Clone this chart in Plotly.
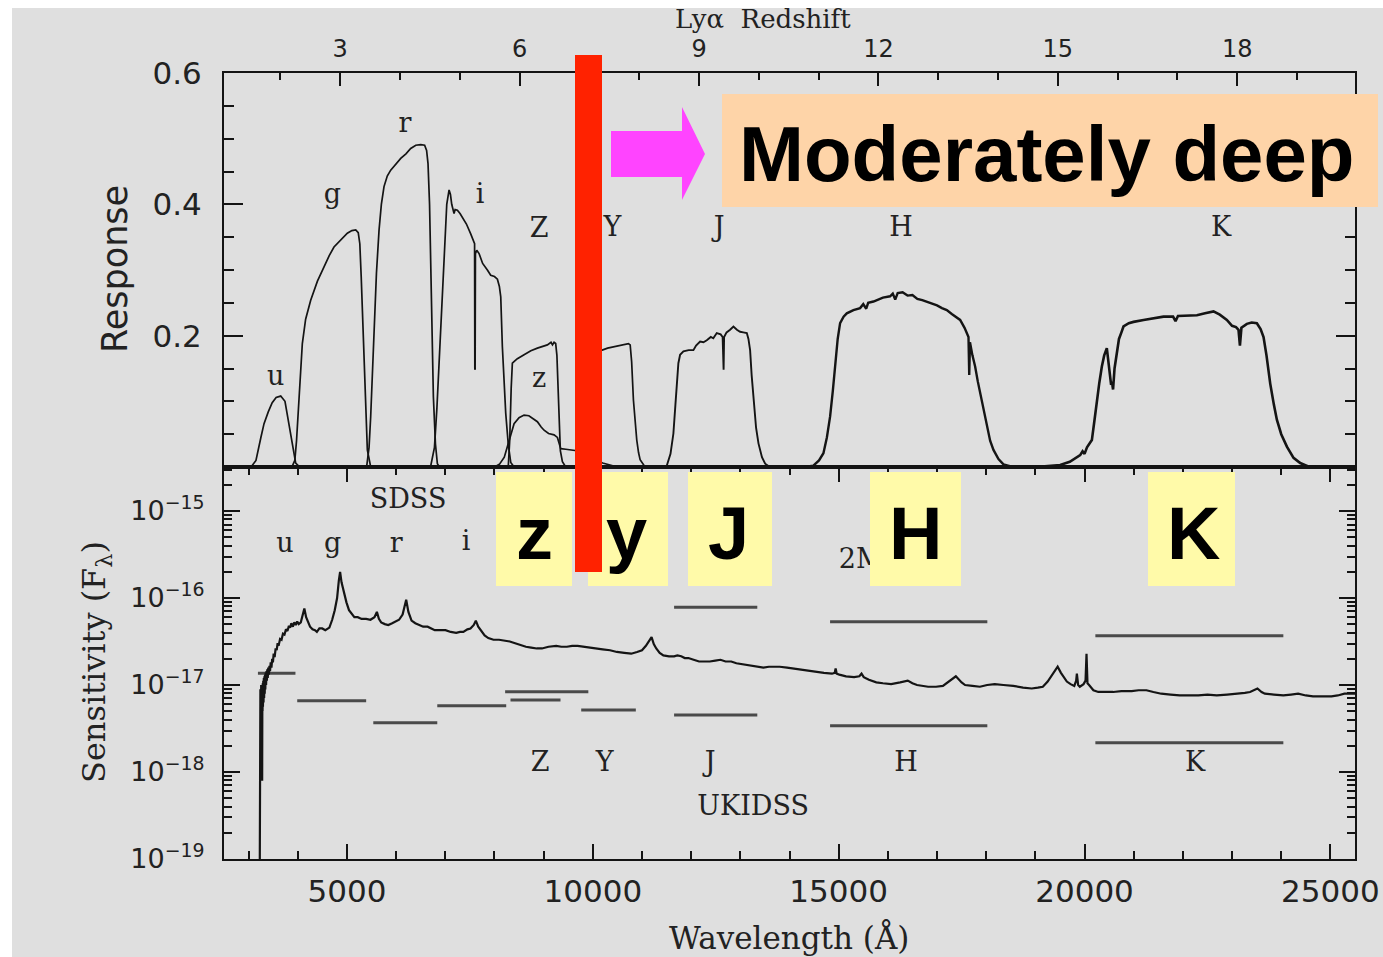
import plotly.graph_objects as go

# ---------------------------------------------------------------------------
# Figure geometry (pixels)
# ---------------------------------------------------------------------------
FIG_W, FIG_H = 1383, 957
M_L, M_R, M_T, M_B = 224, 28, 73, 98
SPLIT_PX = 467                       # boundary between the two panels

def fx(px):
    """figure pixel column -> paper x"""
    return (px - M_L) / (FIG_W - M_L - M_R)

def fy(py):
    """figure pixel row -> paper y"""
    return (FIG_H - M_B - py) / (FIG_H - M_T - M_B)

SPLIT = fy(SPLIT_PX)

WL_RANGE = [2500, 25500]             # Å
LYA = 1216.0                         # Å, Lyman alpha rest wavelength
Z_RANGE = [WL_RANGE[0] / LYA - 1, WL_RANGE[1] / LYA - 1]
LOGF_RANGE = [-19.0, -14.494]

# ---------------------------------------------------------------------------
# Filter response curves (wavelength in Å, fractional response)
# ---------------------------------------------------------------------------
u_wl = [3050, 3150, 3250, 3314, 3400, 3480, 3560, 3653, 3740, 3822, 3900, 3958, 4040]
u_resp = [0.000, 0.010, 0.045, 0.066, 0.084, 0.098, 0.106, 0.108, 0.100, 0.066, 0.028, 0.006, 0.000]

g_wl = [3880, 3940, 3975, 4010, 4050, 4093, 4160, 4263, 4400, 4534, 4640, 4737,
        4870, 5008, 5100, 5179, 5230, 5262, 5290, 5320, 5348, 5380, 5415, 5483]
g_resp = [0.000, 0.010, 0.040, 0.090, 0.145, 0.188, 0.225, 0.254, 0.283, 0.305, 0.322, 0.335,
          0.346, 0.356, 0.360, 0.361, 0.357, 0.340, 0.290, 0.220, 0.158, 0.085, 0.026, 0.000]

r_wl = [5400, 5450, 5483, 5520, 5551, 5600, 5653, 5700, 5754, 5820, 5890, 6000, 6094,
        6200, 6297, 6400, 6501, 6580, 6620, 6649, 6680, 6704, 6730, 6758, 6800, 6839, 6880]
r_resp = [0.000, 0.030, 0.077, 0.150, 0.209, 0.295, 0.361, 0.400, 0.427, 0.443, 0.452, 0.462, 0.470,
          0.477, 0.485, 0.490, 0.491, 0.490, 0.482, 0.462, 0.400, 0.310, 0.200, 0.107, 0.035, 0.005, 0.000]

i_wl = [6700, 6780, 6830, 6873, 6920, 6975, 7030, 7077, 7105, 7131, 7178, 7200, 7246,
        7300, 7348, 7430, 7517, 7580, 7596, 7601, 7607, 7613, 7640, 7687, 7760, 7856,
        7924, 8000, 8060, 8100, 8128, 8161, 8200, 8229, 8280, 8331, 8400]
i_resp = [0.000, 0.030, 0.090, 0.158, 0.250, 0.335, 0.400, 0.422, 0.415, 0.400, 0.386, 0.392, 0.391,
          0.386, 0.380, 0.370, 0.355, 0.345, 0.340, 0.150, 0.148, 0.325, 0.330, 0.325, 0.310, 0.300,
          0.292, 0.290, 0.286, 0.275, 0.259, 0.183, 0.120, 0.082, 0.035, 0.007, 0.000]

zs_wl = [8000, 8100, 8200, 8263, 8330, 8399, 8500, 8602, 8700, 8800, 8873, 8950, 9009,
         9100, 9212, 9280, 9320, 9348, 9450, 9600, 9750, 9900, 10050, 10200, 10350, 10500]
zs_resp = [0.000, 0.004, 0.015, 0.031, 0.052, 0.066, 0.075, 0.079, 0.078, 0.073, 0.069, 0.061, 0.056,
           0.051, 0.049, 0.045, 0.035, 0.028, 0.027, 0.026, 0.024, 0.018, 0.011, 0.006, 0.003, 0.000]

Zu_wl = [8280, 8310, 8340, 8364, 8420, 8466, 8602, 8740, 8873, 9000, 9076, 9150, 9180,
         9212, 9245, 9270, 9300, 9314, 9340, 9382, 9450]
Zu_resp = [0.000, 0.040, 0.120, 0.158, 0.162, 0.165, 0.171, 0.177, 0.181, 0.184, 0.186, 0.190, 0.186,
           0.190, 0.188, 0.170, 0.100, 0.056, 0.025, 0.008, 0.000]

Y_wl = [9700, 9760, 9800, 9840, 9880, 9950, 10190, 10300, 10419, 10600, 10724, 10760,
        10790, 10826, 10860, 10894, 10930, 10962, 11063]
Y_resp = [0.000, 0.020, 0.060, 0.120, 0.165, 0.175, 0.178, 0.181, 0.183, 0.186, 0.188, 0.186,
          0.160, 0.102, 0.065, 0.041, 0.022, 0.011, 0.000]

J_wl = [11400, 11504, 11580, 11639, 11680, 11707, 11740, 11775, 11843, 11950, 12046, 12100,
        12182, 12250, 12318, 12400, 12450, 12521, 12600, 12640, 12650, 12660, 12670, 12720,
        12792, 12860, 12930, 12996, 13060, 13132, 13165, 13199, 13230, 13267, 13320, 13369,
        13440, 13505, 13600]
J_resp = [0.000, 0.002, 0.020, 0.051, 0.095, 0.127, 0.158, 0.171, 0.176, 0.178, 0.178, 0.185,
          0.191, 0.190, 0.193, 0.198, 0.196, 0.204, 0.202, 0.198, 0.150, 0.148, 0.198, 0.205,
          0.209, 0.214, 0.209, 0.206, 0.205, 0.204, 0.195, 0.178, 0.140, 0.102, 0.060, 0.036,
          0.015, 0.005, 0.000]

H_wl = [14300, 14486, 14600, 14690, 14760, 14826, 14880, 14927, 14980, 15029, 15100, 15165,
        15300, 15436, 15500, 15560, 15600, 15707, 15800, 15900, 16046, 16100, 16150, 16200,
        16300, 16400, 16500, 16600, 16700, 16860, 17000, 17100, 17199, 17300, 17400, 17470,
        17560, 17600, 17640, 17655, 17670, 17720, 17775, 17830, 17877, 17950, 18012, 18080,
        18148, 18250, 18351, 18500, 18900]
H_resp = [0.000, 0.002, 0.010, 0.021, 0.045, 0.077, 0.115, 0.153, 0.195, 0.219, 0.229, 0.234,
          0.239, 0.242, 0.248, 0.241, 0.250, 0.252, 0.255, 0.258, 0.260, 0.264, 0.255, 0.265,
          0.266, 0.261, 0.262, 0.256, 0.254, 0.250, 0.246, 0.242, 0.239, 0.233, 0.228, 0.224,
          0.212, 0.205, 0.198, 0.140, 0.190, 0.170, 0.153, 0.130, 0.112, 0.085, 0.061, 0.040,
          0.026, 0.012, 0.004, 0.001, 0.000]

K_wl = [19000, 19504, 19700, 19850, 19911, 19960, 20000, 20050, 20149, 20200, 20250, 20300,
        20352, 20400, 20453, 20480, 20510, 20540, 20555, 20580, 20610, 20657, 20700, 20750,
        20792, 20900, 20996, 21200, 21400, 21606, 21800, 21850, 21900, 22100, 22284, 22450,
        22623, 22750, 22894, 23000, 23080, 23131, 23160, 23190, 23301, 23400, 23504, 23580,
        23640, 23700, 23776, 23850, 23911, 24000, 24115, 24250, 24386, 24550, 24700]
K_resp = [0.000, 0.003, 0.008, 0.016, 0.018, 0.024, 0.020, 0.030, 0.041, 0.070, 0.102, 0.128,
          0.153, 0.170, 0.181, 0.165, 0.140, 0.125, 0.130, 0.118, 0.150, 0.176, 0.195, 0.205,
          0.214, 0.219, 0.221, 0.224, 0.227, 0.229, 0.229, 0.222, 0.230, 0.231, 0.231, 0.234,
          0.237, 0.232, 0.224, 0.215, 0.213, 0.209, 0.185, 0.212, 0.218, 0.220, 0.219, 0.210,
          0.198, 0.170, 0.127, 0.095, 0.072, 0.050, 0.031, 0.014, 0.006, 0.001, 0.000]

FILTERS = [
    ("u", u_wl, u_resp, 1.7), ("g", g_wl, g_resp, 1.7), ("r", r_wl, r_resp, 1.7),
    ("i", i_wl, i_resp, 1.7), ("z", zs_wl, zs_resp, 1.7), ("Z", Zu_wl, Zu_resp, 1.7),
    ("Y", Y_wl, Y_resp, 1.7), ("J", J_wl, J_resp, 1.9), ("H", H_wl, H_resp, 2.4),
    ("K", K_wl, K_resp, 2.6),
]

# ---------------------------------------------------------------------------
# Quasar sensitivity spectrum: wavelength (Å) and log10 F_lambda
# ---------------------------------------------------------------------------
spec_wl = [
    3228, 3232, 3236, 3240, 3244, 3248, 3252, 3256, 3260, 3264,
    3268, 3272, 3276, 3280, 3284, 3288, 3292, 3298, 3304, 3310,
    3316, 3322, 3328, 3334, 3340, 3348, 3356, 3364, 3372, 3380,
    3390, 3400, 3412, 3424, 3436, 3450, 3465, 3480, 3495, 3510,
    3530, 3550, 3572, 3590, 3610, 3640, 3670, 3699, 3730, 3760,
    3790, 3820, 3844, 3870, 3900, 3930, 3960, 3989, 4020, 4062,
    4100, 4134, 4170, 4207, 4250, 4300, 4350, 4389, 4440, 4498,
    4560, 4643, 4700, 4752, 4800, 4835, 4861, 4890, 4933, 4990,
    5042, 5100, 5151, 5220, 5297, 5390, 5478, 5560, 5609, 5650,
    5696, 5770, 5841, 5920, 5987, 6060, 6132, 6175, 6205, 6250,
    6314, 6390, 6459, 6550, 6640, 6720, 6786, 6900, 7004, 7110,
    7222, 7300, 7367, 7450, 7512, 7580, 7621, 7670, 7730, 7800,
    7875, 7980, 8093, 8200, 8311, 8420, 8529, 8640, 8747, 8860,
    8965, 9100, 9256, 9360, 9473, 9580, 9691, 9800, 9909, 10050,
    10200, 10350, 10490, 10640, 10781, 10900, 11000, 11080, 11130, 11195,
    11240, 11290, 11360, 11435, 11550, 11653, 11720, 11798, 11870, 11943,
    12050, 12161, 12270, 12379, 12490, 12597, 12700, 12815, 12920, 13033,
    13140, 13251, 13360, 13469, 13580, 13687, 13800, 13950, 14185, 14400,
    14562, 14700, 14863, 14920, 14938, 14960, 15013, 15150, 15314, 15420,
    15465, 15510, 15615, 15765, 15900, 16067, 16250, 16405, 16500, 16593,
    16819, 16980, 17120, 17250, 17383, 17500, 17571, 17720, 17872, 18020,
    18174, 18350, 18550, 18750, 18926, 19050, 19152, 19250, 19340, 19453,
    19520, 19566, 19640, 19716, 19791, 19830, 19844, 19870, 19904, 19980,
    20020, 20040, 20060, 20092, 20180, 20280, 20430, 20582, 20750, 20958,
    21100, 21259, 21400, 21560, 21750, 21936, 22120, 22313, 22500, 22689,
    22900, 23140, 23260, 23366, 23516, 23600, 23667, 23850, 24043, 24200,
    24344, 24500, 24645, 24820, 25021, 25150, 25285, 25400, 25500,
]
spec_logf = [
    -19.00, -17.20, -17.60, -17.05, -17.45, -17.10, -17.50, -17.00, -17.35, -17.05,
    -17.60, -17.00, -18.10, -17.10, -17.30, -16.98, -17.25, -16.95, -17.20, -16.92,
    -17.15, -16.90, -17.10, -16.88, -17.05, -16.86, -17.00, -16.84, -16.95, -16.82,
    -16.92, -16.80, -16.88, -16.78, -16.84, -16.74, -16.80, -16.70, -16.74, -16.64,
    -16.68, -16.58, -16.60, -16.52, -16.55, -16.47, -16.48, -16.41, -16.42, -16.36,
    -16.38, -16.32, -16.34, -16.29, -16.33, -16.28, -16.31, -16.27, -16.30, -16.28,
    -16.20, -16.12, -16.22, -16.27, -16.33, -16.36, -16.37, -16.39, -16.35, -16.35,
    -16.37, -16.34, -16.25, -16.14, -16.00, -15.80, -15.70, -15.82, -15.93, -16.05,
    -16.14, -16.19, -16.22, -16.22, -16.24, -16.24, -16.25, -16.22, -16.16, -16.24,
    -16.28, -16.30, -16.31, -16.29, -16.27, -16.25, -16.19, -16.10, -16.02, -16.16,
    -16.26, -16.29, -16.31, -16.33, -16.33, -16.35, -16.37, -16.37, -16.37, -16.39,
    -16.40, -16.39, -16.39, -16.36, -16.35, -16.31, -16.26, -16.33, -16.38, -16.43,
    -16.46, -16.48, -16.48, -16.49, -16.50, -16.52, -16.54, -16.56, -16.57, -16.58,
    -16.58, -16.56, -16.55, -16.56, -16.56, -16.55, -16.55, -16.56, -16.57, -16.58,
    -16.59, -16.60, -16.62, -16.63, -16.64, -16.62, -16.60, -16.55, -16.50, -16.45,
    -16.53, -16.58, -16.63, -16.66, -16.67, -16.67, -16.66, -16.67, -16.69, -16.69,
    -16.71, -16.73, -16.73, -16.73, -16.72, -16.71, -16.73, -16.73, -16.75, -16.76,
    -16.77, -16.78, -16.79, -16.80, -16.79, -16.79, -16.79, -16.80, -16.82, -16.84,
    -16.85, -16.86, -16.87, -16.86, -16.81, -16.87, -16.88, -16.90, -16.91, -16.90,
    -16.87, -16.91, -16.94, -16.97, -16.98, -16.99, -16.97, -16.95, -16.98, -17.00,
    -17.02, -17.02, -17.01, -16.96, -16.90, -16.97, -17.00, -17.01, -17.02, -17.00,
    -16.99, -17.00, -17.01, -17.03, -17.04, -17.03, -17.02, -16.96, -16.88, -16.79,
    -16.86, -16.90, -16.96, -16.99, -17.01, -16.95, -16.87, -17.00, -17.02, -16.99,
    -16.95, -16.64, -16.98, -17.00, -17.06, -17.08, -17.08, -17.08, -17.07, -17.07,
    -17.06, -17.06, -17.08, -17.10, -17.11, -17.12, -17.12, -17.12, -17.11, -17.12,
    -17.11, -17.10, -17.09, -17.08, -17.04, -17.08, -17.10, -17.11, -17.12, -17.11,
    -17.10, -17.12, -17.13, -17.13, -17.13, -17.12, -17.10, -17.10, -17.10,
]

# ---------------------------------------------------------------------------
# Survey depth limits per band: wavelength span and log10 F_lambda
# ---------------------------------------------------------------------------
sdss_bands = ["u", "g", "r", "i", "z"]
sdss_wl_lo = [3190, 3989, 5536, 6837, 8217]
sdss_wl_hi = [3953, 5391, 6837, 8239, 9909]
sdss_logf = [-16.866, -17.181, -17.434, -17.239, -17.077]

ukidss_bands = ["Z", "Y", "J", "H", "K"]
ukidss_wl_lo = [8326, 9764, 11653, 14825, 20220]
ukidss_wl_hi = [9343, 10875, 13345, 18023, 24043]
ukidss_logf = [-17.172, -17.287, -17.345, -17.468, -17.663]

tmass_bands = ["J", "H", "K"]
tmass_wl_lo = [11653, 14825, 20220]
tmass_wl_hi = [13345, 18023, 24043]
tmass_logf = [-16.107, -16.272, -16.433]

# Band labels
resp_label_text = ["u", "g", "r", "i", "Z", "z", "Y", "J", "H", "K"]
resp_label_wl = [3551, 4703, 6182, 7707, 8907, 8907, 10400, 12568, 16270, 22779]
resp_label_y = [0.1345, 0.413, 0.5197, 0.412, 0.361, 0.1325, 0.3624, 0.3624, 0.3624, 0.3624]

sens_label_text = ["SDSS", "u", "g", "r", "i", "2MASS", "Z", "Y", "J", "H", "K", "UKIDSS"]
sens_label_wl = [6243, 3741, 4707, 6000, 7422, 16026, 8927, 10239, 12385, 16372, 22250, 13260]
sens_label_logf = [-14.882, -15.399, -15.399, -15.399, -15.376, -15.572,
                   -17.908, -17.908, -17.908, -17.908, -17.908, -18.414]

# Highlighted near-IR bands
hl_text = ["z", "y", "J", "H", "K"]
hl_box_px = [(496, 572), (588, 668), (688, 772), (870, 961), (1148, 1235)]
hl_text_px = [534, 626, 728, 915, 1193]

# ---------------------------------------------------------------------------
INK = "#141414"
SERIF = "DejaVu Serif"
SANS = "DejaVu Sans"

fig = go.Figure()

for name, wl, resp, lw in FILTERS:
    fig.add_trace(go.Scatter(x=wl, y=resp, mode="lines", name=name,
                             line=dict(color=INK, width=lw),
                             xaxis="x2", yaxis="y", showlegend=False, hoverinfo="skip"))

# redshift axis carrier
fig.add_trace(go.Scatter(x=[None], y=[None], xaxis="x3", yaxis="y",
                         showlegend=False, hoverinfo="skip"))

def add_limits(lo, hi, logf, name):
    xs, ys = [], []
    for a, b, v in zip(lo, hi, logf):
        xs += [a, b, None]
        ys += [10 ** v, 10 ** v, None]
    fig.add_trace(go.Scatter(x=xs, y=ys, mode="lines", name=name,
                             line=dict(color="#4a4a4a", width=3),
                             xaxis="x", yaxis="y2", showlegend=False, hoverinfo="skip"))

add_limits(sdss_wl_lo, sdss_wl_hi, sdss_logf, "SDSS")
add_limits(ukidss_wl_lo, ukidss_wl_hi, ukidss_logf, "UKIDSS")
add_limits(tmass_wl_lo, tmass_wl_hi, tmass_logf, "2MASS")

fig.add_trace(go.Scatter(x=spec_wl, y=[10 ** v for v in spec_logf], mode="lines",
                         line=dict(color=INK, width=2.2), xaxis="x", yaxis="y2",
                         showlegend=False, hoverinfo="skip"))

label_font = dict(family=SERIF, size=27, color="#222")
fig.add_trace(go.Scatter(x=resp_label_wl, y=resp_label_y, mode="text", text=resp_label_text,
                         textposition="middle center", textfont=label_font,
                         xaxis="x2", yaxis="y", showlegend=False, hoverinfo="skip"))
fig.add_trace(go.Scatter(x=sens_label_wl, y=[10 ** v for v in sens_label_logf], mode="text",
                         text=sens_label_text, textposition="middle center", textfont=label_font,
                         xaxis="x", yaxis="y2", showlegend=False, hoverinfo="skip"))

# ---------------------------------------------------------------------------
# Overlays
# ---------------------------------------------------------------------------
shapes = [
    dict(type="rect", xref="paper", yref="paper", x0=fx(12), x1=fx(FIG_W), y0=fy(FIG_H), y1=fy(8),
         fillcolor="#dfdfdf", line=dict(width=0), layer="below"),
]
for x0, x1 in hl_box_px:
    shapes.append(dict(type="rect", xref="paper", yref="paper", x0=fx(x0), x1=fx(x1),
                       y0=fy(586), y1=fy(472), fillcolor="#fffaa9", line=dict(width=0),
                       layer="above"))
shapes.append(dict(type="rect", xref="paper", yref="paper", x0=fx(575), x1=fx(602),
                   y0=fy(572), y1=fy(55), fillcolor="#ff2200", line=dict(width=0), layer="above"))
arrow_pts = [(611, 131), (682, 131), (682, 107), (705, 154), (682, 200), (682, 177), (611, 177)]
arrow_path = "M " + " L ".join(f"{fx(a):.5f},{fy(b):.5f}" for a, b in arrow_pts) + " Z"
shapes.append(dict(type="path", xref="paper", yref="paper", path=arrow_path,
                   fillcolor="#ff44ff", line=dict(width=0), layer="above"))
shapes.append(dict(type="rect", xref="paper", yref="paper", x0=fx(722), x1=fx(1378),
                   y0=fy(207), y1=fy(94), fillcolor="#fed4a8", line=dict(width=0), layer="above"))

annotations = []
for t, cx in zip(hl_text, hl_text_px):
    annotations.append(dict(xref="paper", yref="paper", x=fx(cx), y=fy(533), text=f"<b>{t}</b>",
                            showarrow=False, xanchor="center", yanchor="middle",
                            font=dict(family="Liberation Sans", size=74, color="#000")))
annotations.append(dict(xref="paper", yref="paper", x=fx(1047), y=fy(154), text="<b>Moderately deep</b>",
                        showarrow=False, xanchor="center", yanchor="middle",
                        font=dict(family="Liberation Sans", size=78, color="#000")))
# axis titles
annotations += [
    dict(xref="paper", yref="paper", x=fx(763), y=fy(19), text="Lyα\u00a0 Redshift",
         showarrow=False, xanchor="center", yanchor="middle",
         font=dict(family=SERIF, size=26, color="#222")),
    dict(xref="paper", yref="paper", x=fx(789), y=fy(937), text="Wavelength (Å)",
         showarrow=False, xanchor="center", yanchor="middle",
         font=dict(family=SERIF, size=31, color="#222")),
    dict(xref="paper", yref="paper", x=fx(115), y=fy(269), text="Response", textangle=-90,
         showarrow=False, xanchor="center", yanchor="middle",
         font=dict(family=SANS, size=35, color="#222")),
    dict(xref="paper", yref="paper", x=fx(96), y=fy(662), text="Sensitivity (F<sub>λ</sub>)",
         textangle=-90, showarrow=False, xanchor="center", yanchor="middle",
         font=dict(family=SERIF, size=32, color="#222")),
]

axis_common = dict(showline=True, linecolor=INK, linewidth=2, ticks="inside", tickcolor=INK,
                   tickwidth=2, showgrid=False, zeroline=False, automargin=False)

log_major = [1e-19, 1e-18, 1e-17, 1e-16, 1e-15]
log_major_text = ["10<sup>−19</sup>", "10<sup>−18</sup>", "10<sup>−17</sup>",
                  "10<sup>−16</sup>", "10<sup>−15</sup>"]
log_minor = [k * 10.0 ** e for e in range(-19, -14) for k in range(2, 10)]

fig.update_layout(
    width=FIG_W, height=FIG_H, autosize=False,
    margin=dict(l=M_L, r=M_R, t=M_T, b=M_B, pad=0),
    paper_bgcolor="white", plot_bgcolor="rgba(0,0,0,0)",
    showlegend=False,
    xaxis=dict(**axis_common, domain=[0, 1], anchor="y2", range=WL_RANGE,
               tickmode="linear", tick0=0, dtick=5000, ticklen=15, mirror="ticks",
               tickformat="d",
               minor=dict(ticks="inside", tickmode="linear", tick0=0, dtick=1000,
                          ticklen=8, tickcolor=INK, tickwidth=2),
               tickfont=dict(family=SANS, size=31, color="#222"), ticklabelstandoff=4),
    xaxis2=dict(showline=True, linecolor=INK, linewidth=2, ticks="", showgrid=False,
                zeroline=False, automargin=False, domain=[0, 1], anchor="y", range=WL_RANGE,
                matches="x", showticklabels=False),
    xaxis3=dict(**axis_common, overlaying="x2", anchor="y", side="top", range=Z_RANGE,
                tickmode="linear", tick0=0, dtick=3, ticklen=13,
                minor=dict(ticks="inside", tickmode="linear", tick0=0, dtick=1,
                           ticklen=7, tickcolor=INK, tickwidth=2),
                tickfont=dict(family=SANS, size=24, color="#222"), ticklabelstandoff=4),
    yaxis=dict(**axis_common, domain=[SPLIT, 1], anchor="x2", range=[0, 0.6],
               tickmode="array", tickvals=[0.2, 0.4, 0.6], ticktext=["0.2", "0.4", "0.6"],
               ticklen=19, mirror="ticks",
               minor=dict(ticks="inside", tickmode="linear", tick0=0, dtick=0.05,
                          ticklen=10, tickcolor=INK, tickwidth=2),
               tickfont=dict(family=SANS, size=31, color="#222"), ticklabelstandoff=14),
    yaxis2=dict(**axis_common, domain=[0, SPLIT], anchor="x", type="log", range=LOGF_RANGE,
                tickmode="array", tickvals=log_major, ticktext=log_major_text,
                ticklen=16, mirror="ticks",
                minor=dict(ticks="inside", tickmode="array", tickvals=log_minor,
                           ticklen=8, tickcolor=INK, tickwidth=2),
                tickfont=dict(family=SANS, size=27, color="#222"), ticklabelstandoff=12),
    shapes=shapes,
    annotations=annotations,
)

fig.write_html("out.html")
